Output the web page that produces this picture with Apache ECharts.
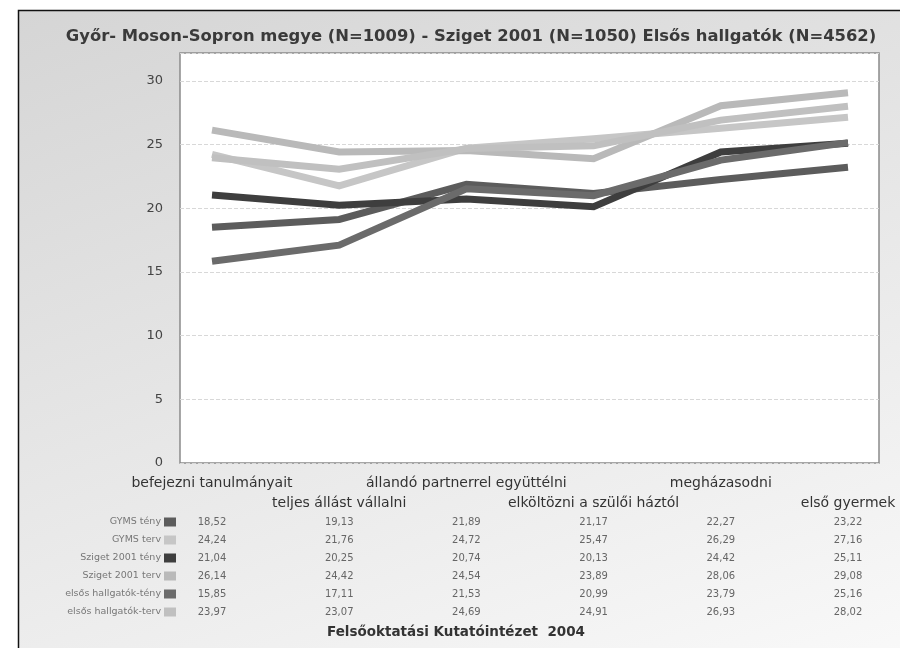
<!DOCTYPE html>
<html>
<head>
<meta charset="utf-8">
<script src="https://cdn.jsdelivr.net/npm/echarts@6/dist/echarts.min.js"></script>
<style>html,body{margin:0;padding:0;background:#fff}#c{width:900px;height:648px}</style>
</head>
<body>
<div id="c"></div>
<script>
const categories = ['befejezni tanulmányait', 'teljes állást vállalni', 'állandó partnerrel együttélni', 'elköltözni a szülői háztól', 'megházasodni', 'első gyermek'];
const seriesNames = ['GYMS tény', 'GYMS terv', 'Sziget 2001 tény', 'Sziget 2001 terv', 'elsős hallgatók-tény', 'elsős hallgatók-terv'];
const gymsTeny = [18.52, 19.13, 21.89, 21.17, 22.27, 23.22];
const gymsTerv = [24.24, 21.76, 24.72, 25.47, 26.29, 27.16];
const szigetTeny = [21.04, 20.25, 20.74, 20.13, 24.42, 25.11];
const szigetTerv = [26.14, 24.42, 24.54, 23.89, 28.06, 29.08];
const elsosTeny = [15.85, 17.11, 21.53, 20.99, 23.79, 25.16];
const elsosTerv = [23.97, 23.07, 24.69, 24.91, 26.93, 28.02];
const yTicks = [0, 5, 10, 15, 20, 25, 30];
const titleText = 'Győr- Moson-Sopron megye (N=1009) - Sziget 2001 (N=1050) Elsős hallgatók (N=4562)';
const footerText = 'Felsőoktatási Kutatóintézet  2004';

const allValues = [gymsTeny, gymsTerv, szigetTeny, szigetTerv, elsosTeny, elsosTerv];
const colors = ['#5c5c5c', '#c6c6c6', '#3e3e3e', '#b9b9b9', '#6b6b6b', '#c0c0c0'];

const FONT = 'DejaVu Sans, Liberation Sans, Arial, sans-serif';
const plotL = 180, plotT = 53, plotW = 699, plotH = 410, axisY = plotT + plotH;
const xMin = -0.2516, xMax = 5.2437;
const idx = categories.map((c, i) => i);
const fmt = v => v.toFixed(2).replace('.', ',');
const rowY = i => 522 + i * 18;

const chart = echarts.init(document.getElementById('c'), null, {renderer: 'canvas'});

const baseX = (offset, values, formatter, labelExtra) => ({
  type: 'value', min: xMin, max: xMax, gridIndex: 0, position: 'bottom', offset: offset,
  axisLine: {show: false}, axisTick: {show: false}, splitLine: {show: false},
  axisLabel: Object.assign({
    customValues: values, margin: 0, verticalAlign: 'middle', fontFamily: FONT,
    showMinLabel: true, showMaxLabel: true, hideOverlap: false, formatter: formatter
  }, labelExtra)
});

const xAxes = [
  baseX(483 - axisY, idx.filter(i => i % 2 === 0), v => categories[Math.round(v)], {color: '#333', fontSize: 14}),
  baseX(503 - axisY, idx.filter(i => i % 2 === 1), v => categories[Math.round(v)], {color: '#333', fontSize: 14})
];
allValues.forEach((arr, r) => {
  xAxes.push(baseX(rowY(r) - axisY, idx, v => fmt(arr[Math.round(v)]), {color: '#666', fontSize: 10}));
});

const graphics = [{
  type: 'rect', z: -10, silent: true,
  shape: {x: 18.5, y: 10.5, width: 1000, height: 1000},
  style: {
    fill: new echarts.graphic.LinearGradient(0, 0, 0.35, 1, [
      {offset: 0, color: '#d5d5d5'}, {offset: 0.55, color: '#ececec'}, {offset: 1, color: '#ffffff'}
    ]),
    stroke: '#111', lineWidth: 1.5
  }
}];
seriesNames.forEach((n, r) => {
  graphics.push({
    type: 'text', z: 5, silent: true,
    style: {x: 161, y: rowY(r), text: n, align: 'right', verticalAlign: 'middle',
      fontSize: 9.5, fill: '#777', fontFamily: FONT}
  });
  graphics.push({
    type: 'rect', z: 5, silent: true,
    shape: {x: 164, y: rowY(r) - 4.5, width: 12, height: 9},
    style: {fill: colors[r]}
  });
});
graphics.push({
  type: 'text', z: 5, silent: true,
  style: {x: 456, y: 632, text: footerText, align: 'center', verticalAlign: 'middle',
    fontSize: 13.5, fontWeight: 'bold', fill: '#333', fontFamily: FONT}
});

const option = {
  animation: false,
  backgroundColor: '#ffffff',
  title: {
    text: titleText, left: 466, top: 24, textAlign: 'center',
    textStyle: {fontSize: 16.4, fontWeight: 'bold', color: '#3a3a3a', fontFamily: FONT}
  },
  graphic: graphics,
  grid: {
    left: plotL, top: plotT, width: plotW, height: plotH,
    show: true, backgroundColor: '#ffffff', borderColor: '#8a8a8a', borderWidth: 1.5
  },
  xAxis: xAxes,
  yAxis: {
    type: 'value', min: 0, max: 32.2, interval: 5,
    axisLine: {show: false}, axisTick: {show: false},
    splitLine: {lineStyle: {color: '#d8d8d8', type: [4, 2], width: 1}},
    axisLabel: {
      margin: 17, color: '#444', fontSize: 13, fontFamily: FONT,
      formatter: v => (yTicks.indexOf(v) >= 0 ? String(v) : '')
    }
  },
  series: allValues.map((arr, r) => ({
    name: seriesNames[r], type: 'line', xAxisIndex: 0, yAxisIndex: 0,
    data: arr.map((v, i) => [idx[i], v]),
    symbol: 'none', color: colors[r],
    lineStyle: {width: 7, color: colors[r], join: 'miter'}
  }))
};
chart.setOption(option);
</script>
</body>
</html>
